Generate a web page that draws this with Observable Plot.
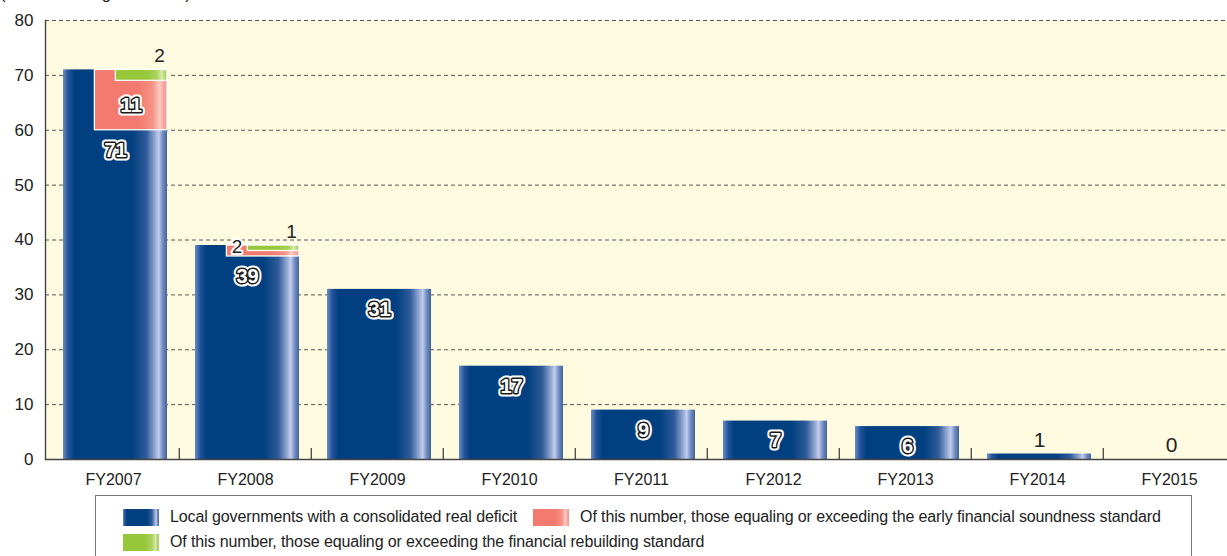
<!DOCTYPE html>
<html><head><meta charset="utf-8">
<script src="https://cdn.jsdelivr.net/npm/d3@7"></script>
<script src="https://cdn.jsdelivr.net/npm/@observablehq/plot@0.6"></script>
<style>
body{margin:0;overflow:hidden;background:#fff;width:1227px;height:556px;position:relative;}
#unit{position:absolute;left:0;top:-16px;font:16.5px "Liberation Sans",Arial,sans-serif;color:#222;white-space:nowrap;}
#chart{position:absolute;left:0;top:0;width:1239px;}
#chart svg{max-width:none !important;}
#legend{position:absolute;left:95px;top:495px;width:1097px;height:80px;border:1px solid #777;border-bottom:none;font:16px "Liberation Sans",Arial,sans-serif;letter-spacing:-0.12px;color:#222;box-sizing:border-box;}
.row{position:absolute;left:27px;display:flex;align-items:center;white-space:nowrap;}
.sw{width:36px;height:17px;margin-right:11px;}
.item{display:flex;align-items:center;margin-right:16px;}
</style></head>
<body>
<div id="unit">(Number of organizations)</div>
<div id="chart"></div>
<div id="legend"></div>
<script>
const categories = ["FY2007","FY2008","FY2009","FY2010","FY2011","FY2012","FY2013","FY2014","FY2015"];
const deficitCount = [71, 39, 31, 17, 9, 7, 6, 1, 0];
const earlyStdCount = [11, 2, 0, 0, 0, 0, 0, 0, 0];
const rebuildStdCount = [2, 1, 0, 0, 0, 0, 0, 0, 0];
const yTicks = [0, 10, 20, 30, 40, 50, 60, 70, 80];
const seriesNames = [
  "Local governments with a consolidated real deficit",
  "Of this number, those equaling or exceeding the early financial soundness standard",
  "Of this number, those equaling or exceeding the financial rebuilding standard"
];

const rows = categories.map((c, i) => ({cat: c, total: deficitCount[i], early: earlyStdCount[i], rebuild: rebuildStdCount[i]}));

const W = 1239, H = 490, mL = 45, mR = 0, mT = 20, mB = 31, inL = 1.5;
const pInner = 0.21, pOuter = 0.105;
const step = (W - mL - mR - inL) / (categories.length - pInner + 2 * pOuter);
const bw = step * (1 - pInner);

const gradStops = {
  gBlue: [[0,"#6c8cc4"],[0.05,"#23549a"],[0.11,"#003f80"],[0.66,"#003f80"],[0.8,"#2f5b99"],[0.88,"#8ea3d0"],[0.92,"#c3cdea"],[0.96,"#6f8bc2"],[1,"#41649f"]],
  gRed: [[0,"#f37a6e"],[0.6,"#f37a6e"],[0.8,"#f59385"],[0.9,"#fbcdc4"],[0.95,"#f7a99d"],[1,"#f59486"]],
  gGreen: [[0,"#97c83c"],[0.6,"#97c83c"],[0.8,"#aad25d"],[0.9,"#d8ebb0"],[0.95,"#b6d877"],[1,"#a6cf56"]]
};
function defsMark() {
  const ns = "http://www.w3.org/2000/svg";
  const defs = document.createElementNS(ns, "defs");
  for (const [id, stops] of Object.entries(gradStops)) {
    const g = document.createElementNS(ns, "linearGradient");
    g.setAttribute("id", id); g.setAttribute("x1", "0"); g.setAttribute("x2", "1"); g.setAttribute("y1", "0"); g.setAttribute("y2", "0");
    for (const [o, c] of stops) {
      const s = document.createElementNS(ns, "stop");
      s.setAttribute("offset", o); s.setAttribute("stop-color", c);
      g.appendChild(s);
    }
    defs.appendChild(g);
  }
  return defs;
}

const font = "'Liberation Sans', Arial, sans-serif";
const inside = rows.filter(d => d.total >= 5);
const above = rows.filter(d => d.total < 5);
const bigEarly = rows.filter(d => d.early >= 5);
const smallEarly = rows.filter(d => d.early > 0 && d.early < 5);
const withRebuild = rows.filter(d => d.rebuild > 0);

const outlined = (data, opts) => [
  Plot.text(data, {...opts, fill: "white", stroke: "white", strokeWidth: 7, strokeLinejoin: "round", paintOrder: "stroke"}),
  Plot.text(data, {...opts, fill: "white", stroke: "#1a1a1a", strokeWidth: 3, strokeLinejoin: "round", paintOrder: "stroke"})
];

const chart = Plot.plot({
  width: W, height: H,
  marginLeft: mL, marginRight: mR, marginTop: mT, marginBottom: mB,
  style: {fontFamily: font, background: "transparent", color: "#222", maxWidth: "none"},
  x: {domain: categories, paddingInner: pInner, paddingOuter: pOuter, insetLeft: inL, label: null},
  y: {domain: [0, 80], label: null},
  marks: [
    defsMark,
    Plot.frame({fill: "#fffbe0", stroke: "none"}),
    Plot.ruleY(yTicks.filter(d => d > 0), {stroke: "#555", strokeWidth: 1, strokeDasharray: "4,3"}),
    Plot.barY(rows, {x: "cat", y: "total", fill: "url(#gBlue)"}),
    Plot.barY(bigEarly.concat(smallEarly), {x: "cat", y1: d => d.total - d.early, y2: "total", fill: "url(#gRed)", stroke: "white", strokeWidth: 1.3, insetLeft: 0.3 * bw}),
    Plot.barY(withRebuild, {x: "cat", y1: d => d.total - d.rebuild, y2: "total", fill: "url(#gGreen)", stroke: "white", strokeWidth: 1.3, insetLeft: 0.5 * bw}),
    Plot.ruleX(rows.slice(1), {x: "cat", y1: 0, y2: 2, dx: -step / 2 - 2, stroke: "#333", strokeWidth: 1.2}),
    Plot.ruleY([0], {stroke: "#444", strokeWidth: 1.6}),
    Plot.frame({anchor: "left", stroke: "#444", strokeWidth: 1.4}),
    ...outlined(inside, {x: "cat", y: d => d.total - d.early, text: d => String(d.total), dy: 20, fontSize: 20, fontWeight: "bold"}),
    Plot.text(above, {x: "cat", y: "total", text: d => String(d.total), dy: -14, fontSize: 21, fill: "#222"}),
    ...outlined(bigEarly, {x: "cat", y: d => d.total - d.early / 2 - d.rebuild / 2, text: d => String(d.early), dx: 0.15 * bw, fontSize: 20, fontWeight: "bold"}),
    Plot.text(smallEarly, {x: "cat", y: "total", text: d => String(d.early), dx: -0.1 * bw, dy: 1, fontSize: 19, fill: "#222", stroke: "white", strokeWidth: 4, paintOrder: "stroke"}),
    Plot.text(withRebuild, {x: "cat", y: "total", text: d => String(d.rebuild), dx: 0.42 * bw, dy: -14, fontSize: 19, fill: "#222"}),
    Plot.axisY(yTicks, {tickSize: 0, tickPadding: 12, fontSize: 17, fill: "#222", label: null}),
    Plot.axisX({tickSize: 0, tickPadding: 14, fontSize: 16, fill: "#222", dx: -2, label: null})
  ]
});
document.getElementById("chart").appendChild(chart);

// Legend
const legendColors = ["gBlue", "gRed", "gGreen"];
const css = id => "linear-gradient(to right," + gradStops[id].map(([o, c]) => c + " " + (o * 100) + "%").join(",") + ")";
const legend = document.getElementById("legend");
const layout = [[0, 1], [2]];
const rowTops = [12, 37];
layout.forEach((idxs, r) => {
  const row = document.createElement("div");
  row.className = "row";
  row.style.top = rowTops[r] + "px";
  idxs.forEach(i => {
    const it = document.createElement("div");
    it.className = "item";
    const sw = document.createElement("div");
    sw.className = "sw";
    sw.style.background = css(legendColors[i]);
    const tx = document.createElement("span");
    tx.textContent = seriesNames[i];
    it.appendChild(sw); it.appendChild(tx);
    row.appendChild(it);
  });
  legend.appendChild(row);
});
</script>
</body></html>
